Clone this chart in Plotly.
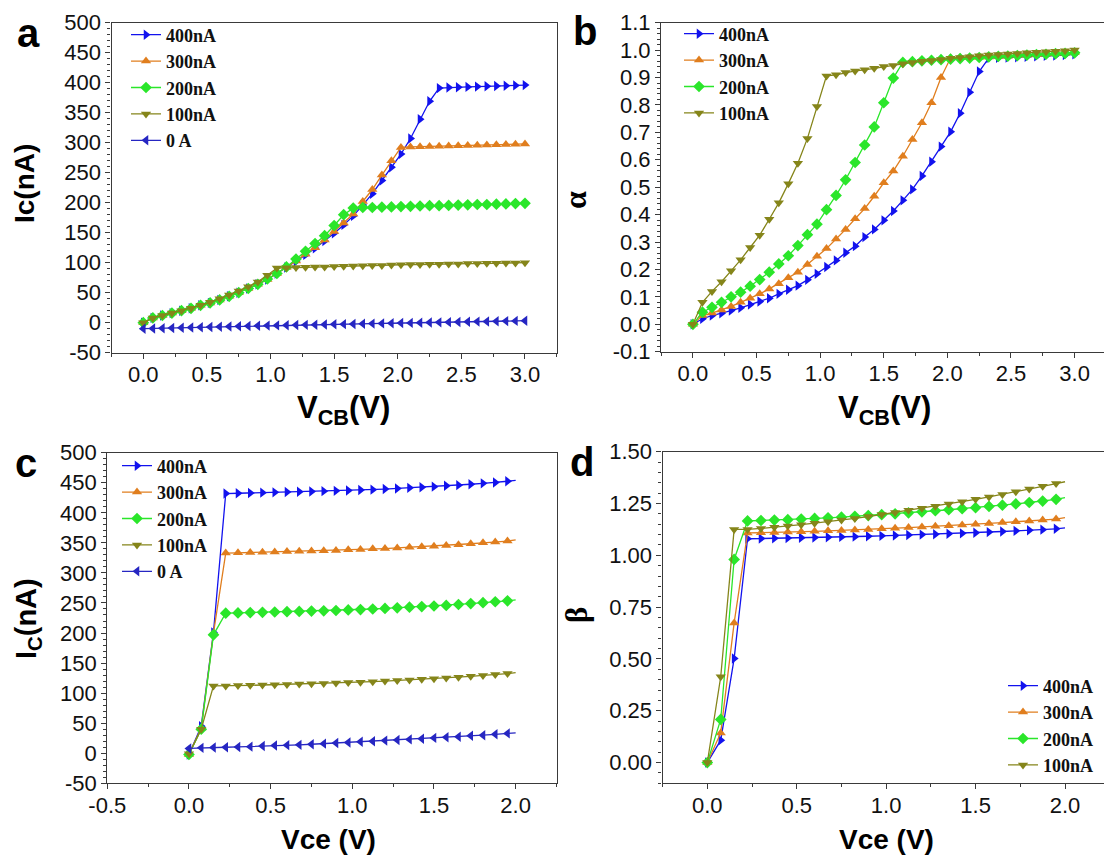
import plotly.graph_objects as go

W, H = 1104, 855

# ---------------- data ----------------
# panels a, b : V_CB sweep (V)
vcb = [0, 0.075, 0.15, 0.225, 0.3, 0.375, 0.45, 0.525, 0.6, 0.675, 0.75, 0.825, 0.9, 0.975,
       1.05, 1.125, 1.2, 1.275, 1.35, 1.425, 1.5, 1.575, 1.65, 1.725, 1.8, 1.875, 1.95, 2.025,
       2.1, 2.175, 2.25, 2.325, 2.4, 2.475, 2.55, 2.625, 2.7, 2.775, 2.85, 2.925, 3.0]

ic_a_400 = [0, 8, 12, 16, 20, 24, 29, 33, 38, 44, 50, 57, 64, 72, 82, 92, 102, 113, 124, 136, 149,
            163, 178, 196, 215, 237, 259, 281, 307, 339, 369, 391, 392, 392.5, 393, 393.5, 394,
            394.5, 395, 395.5, 396]
ic_a_300 = [0, 8, 12, 16, 20, 24, 29, 33, 38, 44, 50, 57, 64, 72, 82, 92, 103, 114, 125, 138, 152,
            166, 181, 202, 222, 246, 270, 292, 293, 293.4, 293.8, 294.2, 294.6, 295, 295.4, 295.8,
            296.3, 296.7, 297.1, 297.6, 298]
ic_a_200 = [0, 8, 12, 16, 20, 24, 29, 33, 38, 44, 50, 57, 64, 73, 82, 93, 106, 119, 132, 145, 162,
            180, 191, 192, 192, 192.5, 193, 193.5, 194, 194.5, 195, 195, 195.5, 196, 196.5, 197,
            197, 197.5, 198, 198.5, 199]
ic_a_100 = [0, 8, 12, 16, 20, 24, 29, 34, 40, 46, 53, 60, 68, 79, 91, 91.5, 92, 92.5, 93, 93, 93.5,
            94, 94.5, 95, 95.5, 95.5, 96, 96.5, 97, 97, 97.5, 97.5, 98, 98, 98.5, 98.5, 99, 99,
            99.5, 99.5, 100]
ic_a_0 = [-10, -9.6, -9.2, -8.8, -8.4, -8.0, -7.6, -7.2, -6.8, -6.4, -6.0, -5.6, -5.2, -4.8, -4.5,
          -4.2, -3.9, -3.6, -3.3, -3.0, -2.7, -2.4, -2.1, -1.8, -1.5, -1.2, -0.9, -0.6, -0.3, 0.0,
          0.3, 0.6, 0.9, 1.2, 1.5, 1.8, 2.1, 2.4, 2.7, 3.0, 3.3]

al_400 = [0, 0.02, 0.032, 0.04, 0.05, 0.06, 0.072, 0.083, 0.095, 0.111, 0.126, 0.141, 0.162, 0.184,
          0.209, 0.233, 0.261, 0.285, 0.318, 0.346, 0.379, 0.413, 0.452, 0.492, 0.541, 0.593,
          0.648, 0.702, 0.77, 0.846, 0.922, 0.971, 0.972, 0.973, 0.974, 0.976, 0.977, 0.979,
          0.98, 0.982, 0.985]
al_300 = [0, 0.032, 0.041, 0.052, 0.065, 0.08, 0.095, 0.111, 0.129, 0.148, 0.17, 0.19, 0.218,
          0.248, 0.276, 0.311, 0.346, 0.385, 0.422, 0.467, 0.516, 0.559, 0.613, 0.674, 0.735,
          0.808, 0.9, 0.971, 0.972, 0.973, 0.974, 0.975, 0.977, 0.978, 0.98, 0.981, 0.983, 0.985,
          0.987, 0.989, 0.99]
al_200 = [0, 0.044, 0.062, 0.08, 0.1, 0.117, 0.139, 0.163, 0.19, 0.22, 0.25, 0.287, 0.327, 0.365,
          0.418, 0.47, 0.527, 0.59, 0.654, 0.72, 0.808, 0.898, 0.955, 0.958, 0.961, 0.963, 0.965,
          0.967, 0.969, 0.971, 0.973, 0.975, 0.977, 0.978, 0.98, 0.982, 0.984, 0.985, 0.987,
          0.988, 0.99]
al_100 = [0, 0.08, 0.12, 0.155, 0.195, 0.235, 0.28, 0.325, 0.383, 0.443, 0.513, 0.587, 0.678,
          0.794, 0.906, 0.91, 0.918, 0.924, 0.928, 0.934, 0.94, 0.944, 0.95, 0.955, 0.959, 0.962,
          0.966, 0.97, 0.973, 0.976, 0.979, 0.982, 0.984, 0.986, 0.988, 0.99, 0.992, 0.994, 0.996,
          0.998, 1.0]

# panels c, d : Vce sweep (V); last value is the end of the line (no marker)
vce = [0, 0.075, 0.15, 0.225, 0.3, 0.375, 0.45, 0.525, 0.6, 0.675, 0.75, 0.825, 0.9, 0.975, 1.05,
       1.125, 1.2, 1.275, 1.35, 1.425, 1.5, 1.575, 1.65, 1.725, 1.8, 1.875, 1.95, 2.0]

ic_c_400 = [-2, 45, 201, 432, 432.5, 433, 433.5, 434, 434.5, 435, 435.5, 436, 436.5, 437, 438,
            438.5, 439.5, 440.5, 441.5, 442.5, 443.5, 445, 446, 447.5, 449, 450.5, 452.5, 454]
ic_c_300 = [-2, 42, 200, 333, 333.5, 334, 334.5, 335, 335.5, 336, 336.5, 337, 337.5, 338.5, 339,
            340, 340.5, 341.5, 342.5, 343.5, 344.5, 345.5, 347, 348.5, 350, 351.5, 353, 355]
ic_c_200 = [-2, 40, 197, 233, 233.5, 234, 234.5, 235, 235.5, 236, 236.5, 237, 237.5, 238.5, 239,
            240, 241, 242, 243, 244, 245, 246, 247.5, 249, 250.5, 252, 253.5, 255]
ic_c_100 = [-1, 40, 112, 112, 112.5, 113, 113.5, 114, 114.5, 115, 115.5, 116, 117, 117.5, 118,
            119, 120, 121, 122, 123, 124, 125, 126.5, 128, 129.5, 131, 132.5, 134]
ic_c_0 = [8, 9, 9.5, 10, 10.5, 11, 12, 13, 13.5, 14, 15, 16, 17, 18, 19, 20, 21, 22, 23, 24, 25.5,
          26.5, 27.5, 29, 30, 31.5, 33, 34]

be_400 = [0, 0.108, 0.502, 1.08, 1.081, 1.082, 1.083, 1.085, 1.086, 1.087, 1.089, 1.09, 1.092,
          1.094, 1.096, 1.098, 1.1, 1.102, 1.104, 1.106, 1.109, 1.112, 1.115, 1.118, 1.121, 1.124,
          1.128, 1.132]
be_300 = [0, 0.143, 0.674, 1.108, 1.109, 1.11, 1.112, 1.114, 1.116, 1.118, 1.12, 1.122, 1.125,
          1.128, 1.131, 1.134, 1.137, 1.14, 1.143, 1.146, 1.15, 1.154, 1.158, 1.162, 1.166, 1.17,
          1.175, 1.182]
be_200 = [0, 0.208, 0.98, 1.166, 1.168, 1.17, 1.172, 1.175, 1.178, 1.181, 1.184, 1.188, 1.192,
          1.196, 1.2, 1.205, 1.21, 1.215, 1.22, 1.225, 1.23, 1.236, 1.242, 1.248, 1.255, 1.262,
          1.27, 1.278]
be_100 = [0, 0.414, 1.125, 1.125, 1.13, 1.135, 1.141, 1.148, 1.155, 1.162, 1.17, 1.178, 1.187,
          1.197, 1.207, 1.217, 1.227, 1.237, 1.248, 1.259, 1.27, 1.282, 1.294, 1.307, 1.32, 1.333,
          1.346, 1.355]

# tick labels
xab_vals = [0, 0.5, 1.0, 1.5, 2.0, 2.5, 3.0]
xab_text = ["0.0", "0.5", "1.0", "1.5", "2.0", "2.5", "3.0"]
ya_vals = [-50, 0, 50, 100, 150, 200, 250, 300, 350, 400, 450, 500]
ya_text = ["-50", "0", "50", "100", "150", "200", "250", "300", "350", "400", "450", "500"]
yb_vals = [-0.1, 0.0, 0.1, 0.2, 0.3, 0.4, 0.5, 0.6, 0.7, 0.8, 0.9, 1.0, 1.1]
yb_text = ["-0.1", "0.0", "0.1", "0.2", "0.3", "0.4", "0.5", "0.6", "0.7", "0.8", "0.9", "1.0", "1.1"]
xc_vals = [-0.5, 0, 0.5, 1.0, 1.5, 2.0]
xc_text = ["-0.5", "0.0", "0.5", "1.0", "1.5", "2.0"]
xd_vals = [0, 0.5, 1.0, 1.5, 2.0]
xd_text = ["0.0", "0.5", "1.0", "1.5", "2.0"]
yd_vals = [0, 0.25, 0.5, 0.75, 1.0, 1.25, 1.5]
yd_text = ["0.00", "0.25", "0.50", "0.75", "1.00", "1.25", "1.50"]

# ---------------- styling ----------------
C400, C300, C200, C100, C0 = "#1212EE", "#E07E1E", "#2AE62A", "#85851A", "#2626C2"
SANS = "Liberation Sans, Arial, sans-serif"
SERIF = "Liberation Serif, Times New Roman, serif"
AXC = "#3a3a3a"


def px_x(p):
    return p / W


def px_y(p):
    return 1 - p / H


fig = go.Figure()


def add(x, y, name, color, symbol, ax, legend, tail=False):
    xs, ys = (x[:-1], y[:-1]) if tail else (x, y)
    fig.add_trace(go.Scatter(
        x=xs, y=ys, name=name, mode="lines+markers",
        line=dict(color=color, width=1.3),
        marker=dict(color=color, symbol=symbol, size=9, line=dict(width=0)),
        xaxis="x" + ax, yaxis="y" + ax, legend=legend))
    if tail:
        fig.add_trace(go.Scatter(
            x=x[-2:], y=y[-2:], mode="lines", showlegend=False, hoverinfo="skip",
            line=dict(color=color, width=1.3), xaxis="x" + ax, yaxis="y" + ax))


add(vcb, ic_a_400, "400nA", C400, "triangle-right", "", "legend")
add(vcb, ic_a_300, "300nA", C300, "triangle-up", "", "legend")
add(vcb, ic_a_200, "200nA", C200, "diamond", "", "legend")
add(vcb, ic_a_100, "100nA", C100, "triangle-down", "", "legend")
add(vcb, ic_a_0, "0 A", C0, "triangle-left", "", "legend")

add(vcb, al_400, "400nA", C400, "triangle-right", "2", "legend2")
add(vcb, al_300, "300nA", C300, "triangle-up", "2", "legend2")
add(vcb, al_200, "200nA", C200, "diamond", "2", "legend2")
add(vcb, al_100, "100nA", C100, "triangle-down", "2", "legend2")

add(vce, ic_c_400, "400nA", C400, "triangle-right", "3", "legend3", True)
add(vce, ic_c_300, "300nA", C300, "triangle-up", "3", "legend3", True)
add(vce, ic_c_200, "200nA", C200, "diamond", "3", "legend3", True)
add(vce, ic_c_100, "100nA", C100, "triangle-down", "3", "legend3", True)
add(vce, ic_c_0, "0 A", C0, "triangle-left", "3", "legend3", True)

add(vce, be_400, "400nA", C400, "triangle-right", "4", "legend4", True)
add(vce, be_300, "300nA", C300, "triangle-up", "4", "legend4", True)
add(vce, be_200, "200nA", C200, "diamond", "4", "legend4", True)
add(vce, be_100, "100nA", C100, "triangle-down", "4", "legend4", True)

tickfont = dict(family=SANS, size=22, color="#111111")


def xax(dom, rng, vals, text, anchor, mirror=True):
    return dict(domain=dom, range=rng, anchor=anchor, tickmode="array", tickvals=vals,
                ticktext=text, ticks="outside", ticklen=5, tickwidth=1.2, tickcolor=AXC,
                minor=dict(ticks="outside", ticklen=3, tickwidth=1, tickcolor=AXC,
                           tickmode="linear", tick0=0, dtick=0.25),
                showline=True, linecolor=AXC, linewidth=1.3, mirror=mirror,
                showgrid=False, zeroline=False, tickfont=tickfont, automargin=False,
                ticklabelstandoff=-3)


def yax(dom, rng, vals, text, anchor, mdt, mirror=True):
    return dict(domain=dom, range=rng, anchor=anchor, tickmode="array", tickvals=vals,
                ticktext=text, ticks="outside", ticklen=5, tickwidth=1.2, tickcolor=AXC,
                minor=dict(ticks="outside", ticklen=3, tickwidth=1, tickcolor=AXC,
                           tickmode="linear", tick0=0, dtick=mdt),
                showline=True, linecolor=AXC, linewidth=1.3, mirror=mirror,
                showgrid=False, zeroline=False, tickfont=tickfont, automargin=False)


dom_ax = [px_x(111.5), px_x(556.8)]
dom_bx = [px_x(661.1), 1.0]
dom_cx = [px_x(107.3), px_x(556.5)]
dom_dx = [px_x(662.6), 1.0]
dom_ay = [px_y(352.7), px_y(22.7)]
dom_by = [px_y(351.7), px_y(22.7)]
dom_cy = [px_y(783.3), px_y(452.7)]
dom_dy = [px_y(783.3), px_y(451.7)]

legfont = dict(family=SERIF, size=18, color="#111111", weight="bold")


def leg(xp, yp):
    return dict(x=px_x(xp), y=px_y(yp), xanchor="left", yanchor="top", bgcolor="rgba(0,0,0,0)",
                font=legfont, tracegroupgap=0, itemwidth=30, borderwidth=0)


def ann(text, xp, yp, size, angle=0, family=SANS, weight="bold"):
    return dict(text=text, x=px_x(xp), y=px_y(yp), xref="paper", yref="paper",
                xanchor="center", yanchor="middle", showarrow=False, textangle=angle,
                font=dict(family=family, size=size, color="#000000", weight=weight))


annotations = [
    ann("a", 28, 33, 40), ann("b", 585, 31, 40), ann("c", 26, 463, 40), ann("d", 582, 462, 40),
    ann("Ic(nA)", 25, 184, 28, -90),
    ann("V<sub>CB</sub>(V)", 343, 410, 31),
    ann("α", 575, 200, 32, -90, SERIF),
    ann("V<sub>CB</sub>(V)", 884, 410, 31),
    ann("I<sub>C</sub>(nA)", 28, 619, 29, -90),
    ann("Vce (V)", 328, 839, 28),
    ann("β", 576, 615, 31, -90, SERIF),
    ann("Vce (V)", 886, 839, 28),
]

fig.update_layout(
    width=W, height=H, margin=dict(l=0, r=0, t=0, b=0),
    paper_bgcolor="white", plot_bgcolor="white", showlegend=True,
    xaxis=xax(dom_ax, [-0.25, 3.25], xab_vals, xab_text, "y"),
    yaxis=yax(dom_ay, [-50, 500], ya_vals, ya_text, "x", 10),
    xaxis2=xax(dom_bx, [-0.25, 3.231], xab_vals, xab_text, "y2"),
    yaxis2=yax(dom_by, [-0.1, 1.1], yb_vals, yb_text, "x2", 0.02, mirror=False),
    xaxis3=xax(dom_cx, [-0.5, 2.25], xc_vals, xc_text, "y3"),
    yaxis3=yax(dom_cy, [-50, 500], ya_vals, ya_text, "x3", 10),
    xaxis4=xax(dom_dx, [-0.25, 2.218], xd_vals, xd_text, "y4"),
    yaxis4=yax(dom_dy, [-0.1, 1.5], yd_vals, yd_text, "x4", 0.05, mirror=False),
    legend=leg(126, 16.5),
    legend2=leg(679, 15.5),
    legend3=leg(117, 447.5),
    legend4=leg(1003, 667.5),
    annotations=annotations,
)

fig.write_html("out.html")
